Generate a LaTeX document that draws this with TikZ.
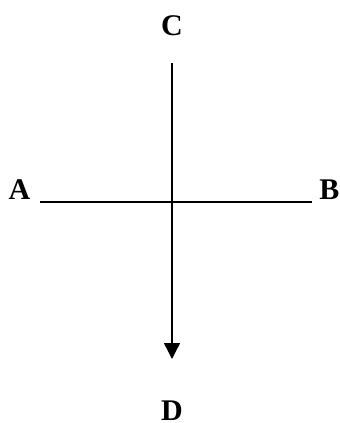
\documentclass[tikz,border=0pt]{standalone}
\usepackage{fontspec}
\setmainfont{Liberation Serif}
\usetikzlibrary{arrows.meta}

\begin{document}
\begin{tikzpicture}[
    x=1pt, y=-1pt,
    % Point labels: bold serif letters set on their baseline.
    label/.style={
        font=\fontsize{30}{30}\selectfont\bfseries,
        inner sep=0pt,
        anchor=base
    },
    axis/.style={line width=1.4pt, draw=black},
    arrow/.style={axis, -{Triangle[length=16pt,width=16pt]}}
]
    \useasboundingbox (0,0) rectangle (340,423);

    \node[label] (A) at (19.5,199) {A};
    \node[label] (B) at (329.5,199) {B};
    \node[label] (C) at (172,35) {C};
    \node[label] (D) at (172,420) {D};

    \coordinate (west) at (40,202);
    \coordinate (east) at (312,202);
    \coordinate (top) at (172,63);
    \coordinate (bottom) at (172,359);

    \draw[axis] (west) -- (east);
    \draw[arrow] (top) -- (bottom);
\end{tikzpicture}
\end{document}
